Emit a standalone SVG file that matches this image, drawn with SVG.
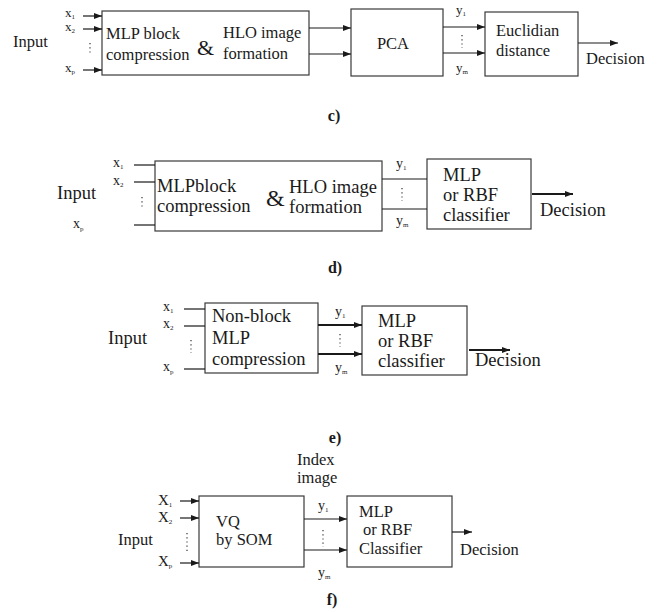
<svg xmlns="http://www.w3.org/2000/svg" width="662" height="612" viewBox="0 0 662 612" font-family="'Liberation Serif', 'DejaVu Serif', serif">
<defs>
<style>
text{font-family:'Liberation Serif','DejaVu Serif',serif;fill:#1a1a1a}
.box{fill:#fff;stroke:#3a3a3a;stroke-width:1.2}
.ln{stroke:#1a1a1a;stroke-width:1.2;fill:none}
.th{stroke-width:2.2}
.dot{stroke:#333;stroke-width:1.2;stroke-dasharray:1.2 3;fill:none}
.cap{font-weight:bold;font-size:16px;text-anchor:middle}
.c{font-size:16.5px}
.d{font-size:18.5px}
.f{font-size:16.5px}
.sv{font-size:13px}
.sv2{font-size:14px}
.sb{font-size:7px}
</style>
<marker id="ah" markerWidth="8" markerHeight="6" refX="8" refY="3" orient="auto" markerUnits="userSpaceOnUse">
<path d="M0,0 L8,3 L0,6 Z" fill="#1a1a1a"/>
</marker>
</defs>

<!-- section c -->
<g id="c-input">
<text class="c" x="13" y="47">Input</text>
<text class="sv" x="65" y="17">x<tspan class="sb" dy="2">1</tspan></text>
<text class="sv" x="65" y="31">x<tspan class="sb" dy="2">2</tspan></text>
<text class="sv" x="65" y="72">x<tspan class="sb" dy="2">p</tspan></text>
<line class="dot" x1="90" y1="43" x2="90" y2="55"/>
</g>
<g id="c-mlp">
<rect class="box" x="102" y="11" width="207" height="64"/>
<text class="c" x="106" y="39">MLP block</text>
<text class="c" x="106" y="60">compression</text>
<text x="197" y="55" font-size="22">&amp;</text>
<text class="c" x="223" y="38">HLO image</text>
<text class="c" x="223" y="59">formation</text>
</g>
<g id="c-pca">
<rect class="box" x="351" y="9" width="92" height="67"/>
<text class="c" x="393" y="49" text-anchor="middle">PCA</text>
</g>
<g id="c-euc">
<rect class="box" x="485" y="12" width="93" height="64"/>
<text class="c" x="496" y="36">Euclidian</text>
<text class="c" x="496" y="56">distance</text>
</g>
<g id="c-labels">
<text class="sv" x="456" y="14">y<tspan class="sb" dy="2">1</tspan></text>
<line class="dot" x1="462" y1="35" x2="462" y2="48"/>
<text class="sv" x="456" y="72">y<tspan class="sb" dy="2">m</tspan></text>
<text class="c" x="586" y="64">Decision</text>
<text class="cap" x="334" y="121">c)</text>
</g>
<g id="c-connectors">
<line class="ln" x1="83" y1="16" x2="102" y2="16" marker-end="url(#ah)"/>
<line class="ln" x1="83" y1="29" x2="102" y2="29" marker-end="url(#ah)"/>
<line class="ln" x1="83" y1="70" x2="102" y2="70" marker-end="url(#ah)"/>
<line class="ln" x1="309" y1="28" x2="351" y2="28" marker-end="url(#ah)"/>
<line class="ln" x1="309" y1="54" x2="351" y2="54" marker-end="url(#ah)"/>
<line class="ln" x1="443" y1="27" x2="485" y2="27" marker-end="url(#ah)"/>
<line class="ln" x1="443" y1="53" x2="485" y2="53" marker-end="url(#ah)"/>
<line class="ln" x1="578" y1="43" x2="618" y2="43" marker-end="url(#ah)"/>
</g>

<!-- section d -->
<g id="d-input">
<text class="d" x="57" y="199">Input</text>
<text class="sv2" x="113" y="167">x<tspan class="sb" dy="2">1</tspan></text>
<text class="sv2" x="113" y="185">x<tspan class="sb" dy="2">2</tspan></text>
<text class="sv2" x="73" y="228">x<tspan class="sb" dy="3">p</tspan></text>
<line class="dot" x1="142" y1="197" x2="142" y2="209"/>
</g>
<g id="d-mlp">
<rect class="box" x="155" y="161" width="227" height="70"/>
<text class="d" x="157" y="192">MLPblock</text>
<text class="d" x="157" y="212">compression</text>
<text x="266" y="206" font-size="24">&amp;</text>
<text class="d" x="289" y="193">HLO image</text>
<text class="d" x="289" y="213">formation</text>
</g>
<g id="d-cls">
<rect class="box" x="427" y="159" width="104" height="70"/>
<text class="d" x="443" y="181">MLP</text>
<text class="d" x="443" y="201">or RBF</text>
<text class="d" x="443" y="221">classifier</text>
</g>
<g id="d-labels">
<text class="sv2" x="396" y="168">y<tspan class="sb" dy="2">1</tspan></text>
<line class="dot" x1="402" y1="188" x2="402" y2="201"/>
<text class="sv2" x="396" y="225">y<tspan class="sb" dy="2">m</tspan></text>
<text class="d" x="540" y="216">Decision</text>
<text class="cap" x="335" y="273">d)</text>
</g>
<g id="d-connectors">
<line class="ln" x1="134" y1="165" x2="155" y2="165"/>
<line class="ln" x1="134" y1="182" x2="155" y2="182"/>
<line class="ln" x1="134" y1="225" x2="155" y2="225"/>
<line class="ln" x1="382" y1="179" x2="427" y2="179"/>
<line class="ln" x1="382" y1="209" x2="427" y2="209"/>
<line class="ln th" x1="532" y1="194" x2="573" y2="194" marker-end="url(#ah)"/>
</g>

<!-- section e -->
<g id="e-input">
<text class="d" x="108" y="344">Input</text>
<text class="sv2" x="163" y="311">x<tspan class="sb" dy="2">1</tspan></text>
<text class="sv2" x="163" y="328">x<tspan class="sb" dy="2">2</tspan></text>
<text class="sv2" x="163" y="371">x<tspan class="sb" dy="3">p</tspan></text>
<line class="dot" x1="191" y1="340" x2="191" y2="353"/>
</g>
<g id="e-mlp">
<rect class="box" x="205" y="303" width="113" height="70"/>
<text class="d" x="212" y="322">Non-block</text>
<text class="d" x="212" y="344">MLP</text>
<text class="d" x="212" y="365">compression</text>
</g>
<g id="e-cls">
<rect class="box" x="362" y="306" width="105" height="69"/>
<text class="d" x="378" y="327">MLP</text>
<text class="d" x="378" y="347">or RBF</text>
<text class="d" x="378" y="367">classifier</text>
</g>
<g id="e-labels">
<text class="sv2" x="335" y="316">y<tspan class="sb" dy="2">1</tspan></text>
<line class="dot" x1="340" y1="334" x2="340" y2="347"/>
<text class="sv2" x="335" y="372">y<tspan class="sb" dy="2">m</tspan></text>
<text class="d" x="475" y="366">Decision</text>
<text class="cap" x="335" y="443">e)</text>
</g>
<g id="e-connectors">
<line class="ln" x1="184" y1="309" x2="205" y2="309"/>
<line class="ln" x1="184" y1="326" x2="205" y2="326"/>
<line class="ln" x1="184" y1="369" x2="205" y2="369"/>
<line class="ln th" x1="318" y1="325" x2="362" y2="325" marker-end="url(#ah)"/>
<line class="ln th" x1="318" y1="354" x2="362" y2="354" marker-end="url(#ah)"/>
<line class="ln th" x1="469" y1="350" x2="510" y2="350" marker-end="url(#ah)"/>
</g>

<!-- section f -->
<g id="f-input">
<text class="f" x="118" y="545">Input</text>
<text x="158" y="505" font-size="15">X<tspan class="sb" dy="2">1</tspan></text>
<text x="158" y="522" font-size="15">X<tspan class="sb" dy="2">2</tspan></text>
<text x="158" y="566" font-size="15">X<tspan class="sb" dy="2">p</tspan></text>
<line class="dot" x1="187" y1="533" x2="187" y2="551" stroke-width="1.8" stroke-dasharray="1.8 5"/>
</g>
<g id="f-vq">
<rect class="box" x="199" y="496" width="105" height="71"/>
<text class="f" x="216" y="527">VQ</text>
<text class="f" x="216" y="545">by SOM</text>
</g>
<g id="f-cls">
<rect class="box" x="347" y="496" width="105" height="71"/>
<text class="f" x="359" y="517">MLP</text>
<text class="f" x="363" y="535">or RBF</text>
<text class="f" x="359" y="554">Classifier</text>
</g>
<g id="f-labels">
<text class="f" x="297" y="465">Index</text>
<text class="f" x="297" y="483">image</text>
<text class="sv2" x="318" y="510">y<tspan class="sb" dy="2">1</tspan></text>
<line class="dot" x1="323" y1="530" x2="323" y2="547" stroke-width="1.6" stroke-dasharray="1.6 5"/>
<text class="sv2" x="318" y="577">y<tspan class="sb" dy="2">m</tspan></text>
<text class="f" x="460" y="555">Decision</text>
<text class="cap" x="332" y="605">f)</text>
</g>
<g id="f-connectors">
<line class="ln" x1="180" y1="501" x2="199" y2="501" marker-end="url(#ah)"/>
<line class="ln" x1="180" y1="518" x2="199" y2="518" marker-end="url(#ah)"/>
<line class="ln" x1="180" y1="563" x2="199" y2="563" marker-end="url(#ah)"/>
<line class="ln" x1="304" y1="519" x2="347" y2="519" marker-end="url(#ah)"/>
<line class="ln" x1="304" y1="550" x2="347" y2="550" marker-end="url(#ah)"/>
<line class="ln" x1="452" y1="532" x2="472" y2="532" marker-end="url(#ah)"/>
</g>
</svg>
